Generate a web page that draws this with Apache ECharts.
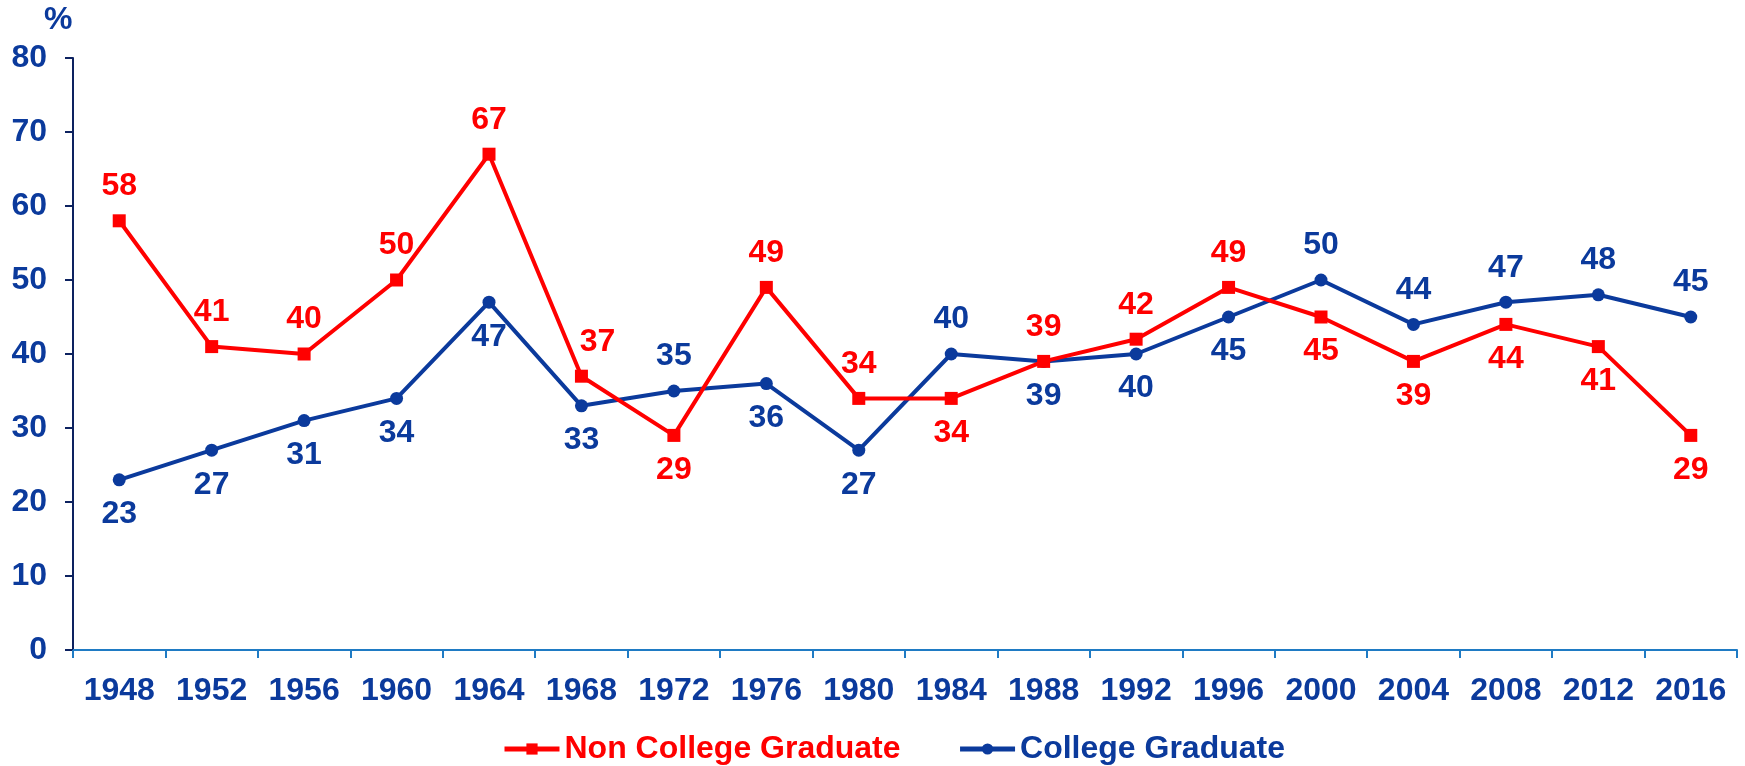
<!DOCTYPE html>
<html><head><meta charset="utf-8">
<script src="https://cdn.jsdelivr.net/npm/echarts@6/dist/echarts.min.js"></script>
<style>html,body{margin:0;padding:0;background:#fff}#c{width:1745px;height:766px}</style>
</head><body><div id="c"></div>
<script>
const years = ['1948','1952','1956','1960','1964','1968','1972','1976','1980','1984','1988','1992','1996','2000','2004','2008','2012','2016'];
const nonCollege = [58,41,40,50,67,37,29,49,34,34,39,42,49,45,39,44,41,29];
const college = [23,27,31,34,47,33,35,36,27,40,39,40,45,50,44,47,48,45];
const nonCollegePos = ['top','top','top','top','top','top','bottom','top','top','bottom','top','top','top','bottom','bottom','bottom','bottom','bottom'];
const collegePos = ['bottom','bottom','bottom','bottom','bottom','bottom','top','bottom','bottom','top','bottom','bottom','bottom','top','top','top','top','top'];
const yTicks = [0,10,20,30,40,50,60,70,80];

const RED = '#ff0000', BLUE = '#0b3a9c';
const FONT = '"Liberation Sans", Arial, sans-serif';
const redOffsets = {5: [16, 0]};

const chart = echarts.init(document.getElementById('c'), null, {renderer: 'canvas'});
chart.setOption({
  animation: false,
  grid: { left: 73, right: 8, top: 58, bottom: 116, containLabel: false },
  xAxis: {
    type: 'category', data: years, boundaryGap: true,
    axisLine: { lineStyle: { color: '#1f7bc4', width: 2 } },
    axisTick: { show: true, alignWithLabel: false, length: 8, lineStyle: { color: '#1f7bc4', width: 2 } },
    axisLabel: { color: BLUE, fontFamily: FONT, fontWeight: 'bold', fontSize: 32, margin: 25, interval: 0 },
    splitLine: { show: false }
  },
  yAxis: {
    type: 'value', min: 0, max: 80, interval: 10,
    axisLine: { show: true, lineStyle: { color: '#0d2260', width: 2 } },
    axisTick: { show: true, length: 8, lineStyle: { color: '#0d2260', width: 2 } },
    axisLabel: { color: BLUE, fontFamily: FONT, fontWeight: 'bold', fontSize: 32, margin: 26,
      formatter: v => yTicks.includes(v) ? String(v) : '' },
    splitLine: { show: false }
  },
  legend: {
    left: 497, top: 728, itemWidth: 55, itemHeight: 14, itemGap: 57,
    textStyle: { fontFamily: FONT, fontWeight: 'bold', fontSize: 32 },
    data: [
      { name: 'Non College Graduate', textStyle: { color: RED }, lineStyle: { width: 5, color: RED } },
      { name: 'College Graduate', textStyle: { color: BLUE }, lineStyle: { width: 5, color: BLUE } }
    ]
  },
  graphic: [{
    type: 'text', left: 44, top: 4,
    style: { text: '%', fill: BLUE, font: 'bold 32px ' + FONT }
  }],
  series: [
    {
      name: 'Non College Graduate', type: 'line',
      data: nonCollege.map((v, i) => ({ value: v, label: { position: nonCollegePos[i], offset: redOffsets[i] || [0, 0] } })),
      symbol: 'rect', symbolSize: 13,
      lineStyle: { color: RED, width: 4 },
      itemStyle: { color: RED },
      label: { show: true, color: RED, fontFamily: FONT, fontWeight: 'bold', fontSize: 32, distance: 12 },
      z: 3
    },
    {
      name: 'College Graduate', type: 'line',
      data: college.map((v, i) => ({ value: v, label: { position: collegePos[i] } })),
      symbol: 'circle', symbolSize: 13,
      lineStyle: { color: BLUE, width: 4 },
      itemStyle: { color: BLUE },
      label: { show: true, color: BLUE, fontFamily: FONT, fontWeight: 'bold', fontSize: 32, distance: 12 },
      z: 2
    }
  ]
});
</script></body></html>
